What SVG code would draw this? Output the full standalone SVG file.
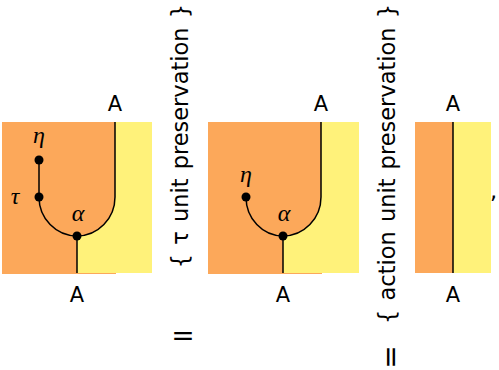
<svg xmlns="http://www.w3.org/2000/svg" width="499" height="370" viewBox="0 0 499 370">
<style>
.or{fill:#FCA85A}
.ye{fill:#FFF27A}
.w{fill:none;stroke:#000;stroke-width:1.5}
.d{fill:#000}
.A{font-family:"DejaVu Sans",Verdana,sans-serif;font-size:21px;text-anchor:middle;fill:#000}
.g{font-family:"Liberation Serif","DejaVu Serif",serif;font-style:italic;font-size:24px;text-anchor:middle;fill:#000}
.r{font-family:"DejaVu Sans",Verdana,sans-serif;font-size:22.5px;word-spacing:2px;fill:#000}
.eq{font-family:"DejaVu Sans",Verdana,sans-serif;font-size:28px;text-anchor:middle;fill:#000}
</style>
<rect width="499" height="370" fill="#fff"/>
<g id="panel1">
<rect class="or" x="2" y="122" width="114" height="152"/>
<path class="ye" d="M115,122 V197 C115,218.5 98,236 77,236 V273 H152 V122 Z"/>
<path class="w" d="M39,160 V197 C39,218.5 56,236 77,236 C98,236 115,218.5 115,197 V122"/>
<path class="w" d="M77,236 V273"/>
<circle class="d" cx="39" cy="160" r="4.5"/>
<circle class="d" cx="39" cy="197" r="4.5"/>
<circle class="d" cx="77" cy="236" r="4.5"/>
<text class="g" x="39" y="143">η</text>
<text class="g" x="15" y="204">τ</text>
<text class="g" x="78" y="221">α</text>
<text class="A" x="115" y="111">A</text>
<text class="A" x="77" y="302">A</text>
</g>
<g id="label1">
<text class="r" transform="translate(188,4) rotate(-90)" text-anchor="end">{ τ unit preservation }</text>
<text class="eq" x="183" y="345">=</text>
</g>
<g id="panel2">
<rect class="or" x="208" y="122" width="114" height="152"/>
<path class="ye" d="M321,122 V197 C321,218.5 304,236 283,236 V273 H359 V122 Z"/>
<path class="w" d="M246,197 C246,218.5 262.5,236 283,236 C304,236 321,218.5 321,197 V122"/>
<path class="w" d="M283,236 V273"/>
<circle class="d" cx="246" cy="197" r="4.5"/>
<circle class="d" cx="283" cy="236" r="4.5"/>
<text class="g" x="246" y="182">η</text>
<text class="g" x="284" y="221">α</text>
<text class="A" x="321" y="111">A</text>
<text class="A" x="283" y="302">A</text>
</g>
<g id="label2">
<text class="r" transform="translate(395,4) rotate(-90)" text-anchor="end">{ action unit preservation }</text>
<text class="eq" transform="translate(400,357) rotate(-90)">=</text>
</g>
<g id="panel3">
<rect class="or" x="415" y="122" width="38" height="151"/>
<rect class="ye" x="453" y="122" width="38" height="151"/>
<path class="w" d="M453,122 V273"/>
<text class="A" x="453" y="111">A</text>
<text class="A" x="453" y="302">A</text>
<text class="r" x="490" y="198">,</text>
</g>
<g id="connectors"/>
</svg>
